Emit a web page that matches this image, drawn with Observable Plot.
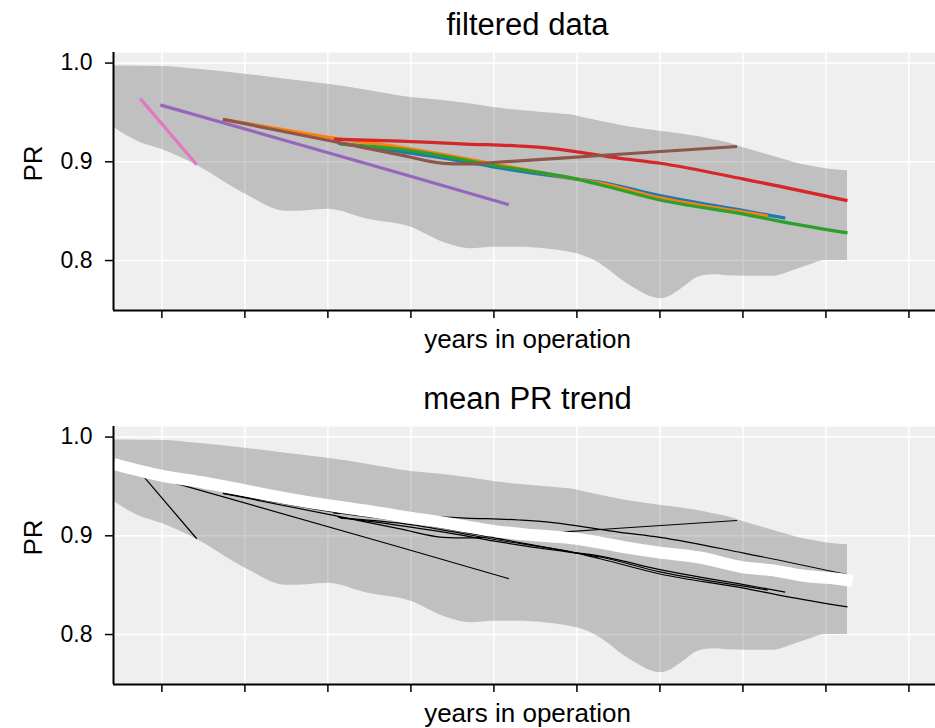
<!DOCTYPE html>
<html>
<head>
<meta charset="utf-8">
<script src="https://cdn.jsdelivr.net/npm/d3@7"></script>
<script src="https://cdn.jsdelivr.net/npm/@observablehq/plot@0.6"></script>
<style>
  html, body { margin: 0; padding: 0; background: #fff; overflow: hidden; }
  svg { display: block; }
</style>
</head>
<body>
<div id="chart"></div>
<script>
// Axis ticks (years in operation, PR)
const xTicks = [1, 2, 3, 4, 5, 6, 7, 8, 9, 10];
const yTicks = [0.8, 0.9, 1.0];

// Spread of PR across systems: shared year grid with lower / upper edges
const bandYears = [0.42, 0.74, 1.0, 1.43, 2.0, 2.5, 2.75, 3.0, 3.47, 4.0, 4.39, 4.72, 5.0, 5.26, 5.66, 6.0, 6.17, 6.34, 6.58, 6.74, 6.91, 7.0, 7.1, 7.28, 7.46, 7.66, 7.82, 8.0, 8.35, 8.51, 8.67, 8.83, 9.0, 9.26];
const bandUpper = [0.997, 0.9968, 0.9966, 0.9938, 0.9887, 0.9835, 0.981, 0.9785, 0.9724, 0.965, 0.962, 0.9585, 0.955, 0.9525, 0.9495, 0.9465, 0.943, 0.940, 0.936, 0.934, 0.932, 0.931, 0.930, 0.928, 0.9255, 0.922, 0.9194, 0.9145, 0.906, 0.902, 0.898, 0.8955, 0.893, 0.891];
const bandLower = [0.9347, 0.9195, 0.9125, 0.896, 0.8675, 0.8498, 0.8505, 0.852, 0.842, 0.8336, 0.8185, 0.812, 0.8134, 0.8134, 0.8115, 0.8068, 0.8017, 0.7932, 0.778, 0.7697, 0.7627, 0.7613, 0.763, 0.7727, 0.7832, 0.7855, 0.7845, 0.784, 0.784, 0.787, 0.7916, 0.7963, 0.800, 0.800];

// Filtered PR series, one per system
const blueYears = [3.12, 3.87, 4.66, 4.99, 5.86, 6.28, 7.0, 8.01, 8.51];
const bluePR    = [0.919, 0.9104, 0.900, 0.8948, 0.884, 0.8795, 0.8657, 0.8505, 0.843];
const orangeYears = [1.735, 2.3, 3.07, 3.87, 4.99, 6.0, 6.28, 7.0, 8.01, 8.3];
const orangePR    = [0.943, 0.935, 0.924, 0.915, 0.8982, 0.8825, 0.8785, 0.8635, 0.849, 0.845];
const greenYears = [3.15, 3.87, 4.66, 4.99, 6.0, 6.28, 7.0, 8.01, 8.51, 9.26];
const greenPR    = [0.918, 0.9128, 0.9017, 0.8965, 0.8825, 0.8768, 0.8613, 0.847, 0.8387, 0.828];
const redYears = [3.07, 3.87, 4.66, 5.3, 5.66, 6.0, 6.5, 7.0, 8.01, 9.26];
const redPR    = [0.923, 0.921, 0.918, 0.916, 0.9138, 0.910, 0.9038, 0.8985, 0.8825, 0.8606];
const purpleYears = [0.98, 3.87, 5.18];
const purplePR    = [0.9576, 0.8884, 0.8566];
const brownYears = [1.735, 3.07, 3.87, 4.39, 4.66, 4.99, 6.28, 7.93];
const brownPR    = [0.943, 0.9206, 0.907, 0.8985, 0.8978, 0.8993, 0.9064, 0.9155];
const pinkYears = [0.74, 1.42];
const pinkPR    = [0.964, 0.897];

// Mean PR trend across all systems
const meanYears = [0.42, 0.98, 1.5, 2.0, 2.5, 3.0, 3.5, 3.87, 4.5, 4.99, 5.5, 6.0, 6.28, 6.6, 7.0, 7.48, 8.01, 8.37, 8.69, 9.26, 9.32];
const meanPR    = [0.9727, 0.9612, 0.954, 0.946, 0.938, 0.931, 0.925, 0.920, 0.912, 0.905, 0.9005, 0.897, 0.893, 0.888, 0.883, 0.878, 0.868, 0.865, 0.860, 0.855, 0.854];

const series = [
  {name: "blue",   color: "#1f77b4", years: blueYears,   pr: bluePR},
  {name: "orange", color: "#ff7f0e", years: orangeYears, pr: orangePR},
  {name: "green",  color: "#2ca02c", years: greenYears,  pr: greenPR},
  {name: "red",    color: "#d62728", years: redYears,    pr: redPR},
  {name: "purple", color: "#9467bd", years: purpleYears, pr: purplePR},
  {name: "brown",  color: "#8c564b", years: brownYears,  pr: brownPR},
  {name: "pink",   color: "#e377c2", years: pinkYears,   pr: pinkPR}
];

const band = bandYears.map((x, i) => ({x, lo: bandLower[i], hi: bandUpper[i]}));
const rows = series.flatMap(s => s.years.map((x, i) => ({x, y: s.pr[i], name: s.name, color: s.color})));
const mean = meanYears.map((x, i) => ({x, y: meanPR[i]}));

const xDomain = [0.417, 10.32];
const yDomain = [0.7494, 1.0107];
const font = "'Liberation Sans', Arial, Helvetica, sans-serif";

function panel(title, seriesMarks, height, marginBottom) {
  return Plot.plot({
    width: 935,
    height,
    marginLeft: 113,
    marginRight: 0,
    marginTop: 52,
    marginBottom,
    style: {fontFamily: font, fontSize: "23px", background: "white", color: "black"},
    x: {domain: xDomain, axis: null},
    y: {domain: yDomain, axis: null},
    marks: [
      Plot.frame({fill: "#efefef", stroke: "none"}),
      Plot.gridX({ticks: xTicks, stroke: "white", strokeOpacity: 1, strokeWidth: 1.5}),
      Plot.gridY({ticks: yTicks, stroke: "white", strokeOpacity: 1, strokeWidth: 1.5}),
      Plot.areaY(band, {x: "x", y1: "lo", y2: "hi", fill: "black", fillOpacity: 0.197, curve: "monotone-x"}),
      ...seriesMarks,
      Plot.axisX({ticks: xTicks, tickSize: 8, tickFormat: () => "", label: null, strokeWidth: 1.5}),
      Plot.axisY({ticks: yTicks, tickSize: 8, tickPadding: 13, tickFormat: d3.format(".1f"), label: null, fontSize: 23, strokeWidth: 1.5}),
      Plot.ruleX([xDomain[0]], {stroke: "black", strokeWidth: 2}),
      Plot.ruleY([yDomain[0]], {stroke: "black", strokeWidth: 2}),
      Plot.text([title], {frameAnchor: "top", dx: 3, dy: -27, lineAnchor: "middle", fontSize: 31}),
      Plot.text(["years in operation"], {frameAnchor: "bottom", dx: 3, dy: 29, lineAnchor: "middle", fontSize: 26}),
      Plot.text(["PR"], {frameAnchor: "left", dx: -80, rotate: -90, lineAnchor: "middle", fontSize: 26})
    ]
  });
}

const topPanel = panel("filtered data", [
  Plot.line(rows, {x: "x", y: "y", z: "name", stroke: "color", strokeWidth: 3.2, strokeLinecap: "butt", curve: "monotone-x"})
], 374, 64);

const bottomPanel = panel("mean PR trend", [
  Plot.line(rows, {x: "x", y: "y", z: "name", stroke: "black", strokeWidth: 1.2, strokeLinecap: "butt", curve: "monotone-x"}),
  Plot.line(mean, {x: "x", y: "y", stroke: "white", strokeWidth: 12, strokeLinecap: "butt", curve: "monotone-x", clip: true})
], 354, 44);

document.getElementById("chart").append(topPanel, bottomPanel);
</script>
</body>
</html>
